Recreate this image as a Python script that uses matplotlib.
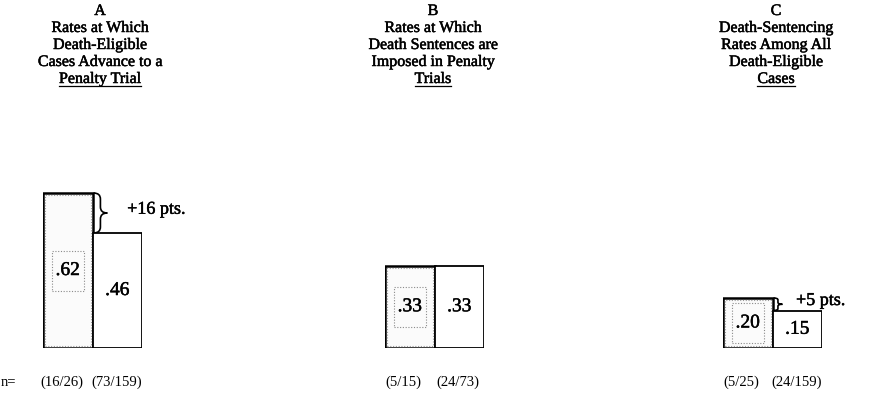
import matplotlib
matplotlib.use("Agg")
import matplotlib.pyplot as plt
from matplotlib.patches import Rectangle, PathPatch
from matplotlib.path import Path
from matplotlib.lines import Line2D
import matplotlib.patheffects as pe

plt.rcParams["font.family"] = ["Liberation Serif", "DejaVu Serif"]

# Panel data
panel_letters = ["A", "B", "C"]
title_lines = [
    ["Rates at Which", "Death-Eligible", "Cases Advance to a"],
    ["Rates at Which", "Death Sentences are", "Imposed in Penalty"],
    ["Death-Sentencing", "Rates Among All", "Death-Eligible"],
]
title_underlined = ["Penalty Trial", "Trials", "Cases"]
left_rates = [0.62, 0.33, 0.20]
right_rates = [0.46, 0.33, 0.15]
left_counts = ["(16/26)", "(5/15)", "(5/25)"]
right_counts = ["(73/159)", "(24/73)", "(24/159)"]

W, H = 873, 394
fig = plt.figure(figsize=(W / 100, H / 100), dpi=100)

# slightly heavier strokes for the typeset look
heavy = [pe.withStroke(linewidth=0.35, foreground="black")]

# layout in pixels: left edge of each pair of bars, width of the pair
pair_left = [43, 385, 723]
pair_width = 99
title_cx = [100, 433, 776]
base_px = 348          # baseline of bars (from top)
unit_px = 250          # pixels per 1.0 of rate

brace_w = [0.28, 0.28, 0.18]


def brace(ax, x0, w, ybot, ytop):
    """Draw a right-pointing curly brace between ybot and ytop."""
    h = ytop - ybot
    mid = (ytop + ybot) / 2
    q = h * 0.15
    xm = x0 + w * 0.5
    verts = [
        (x0, ytop), (xm, ytop), (xm, ytop - q),
        (xm, mid + q),
        (xm, mid), (x0 + w, mid),
        (xm, mid), (xm, mid - q),
        (xm, ybot + q),
        (xm, ybot), (x0, ybot),
    ]
    codes = [Path.MOVETO, Path.CURVE3, Path.CURVE3,
             Path.LINETO,
             Path.CURVE3, Path.CURVE3,
             Path.CURVE3, Path.CURVE3,
             Path.LINETO,
             Path.CURVE3, Path.CURVE3]
    ax.add_patch(PathPatch(Path(verts, codes), fill=False, lw=1.2,
                           edgecolor="black", clip_on=False))


for i in range(3):
    ax = fig.add_axes([pair_left[i] / W, (H - base_px) / H,
                       pair_width / W, unit_px / H])
    ax.set_xlim(-0.5, 1.5)
    ax.set_ylim(0, 1)
    ax.axis("off")

    lv, rv = left_rates[i], right_rates[i]
    ax.bar([0], [lv], width=1.0, color="#fbfbfb", edgecolor="black",
           linewidth=1.8, zorder=2)
    ax.bar([1], [rv], width=1.0, color="white", edgecolor="black",
           linewidth=1.3, zorder=2)

    # stippled inner border of the left bar
    ax.add_patch(Rectangle((-0.46, 0.008), 0.92, lv - 0.016, fill=False,
                           edgecolor="#9a9a9a", lw=0.8, ls=(0, (1, 1.5)),
                           zorder=3))
    # dotted box around the left bar's value
    ax.add_patch(Rectangle((-0.32, lv / 2 - 0.08), 0.64, 0.16, fill=False,
                           edgecolor="#8a8a8a", lw=0.8, ls=(0, (1, 1.5)),
                           zorder=3))

    fmt = lambda v: ("%.2f" % v)[1:]
    ax.text(0, lv / 2, fmt(lv), ha="center", va="center", fontsize=14,
            zorder=4, path_effects=heavy)
    ax.text(1, rv / 2, fmt(rv), ha="center", va="center", fontsize=14,
            zorder=4, path_effects=heavy)

    # sample sizes
    ax.text(-0.12, -0.136, left_counts[i], ha="center", va="center",
            fontsize=10.5, clip_on=False)
    ax.text(0.98, -0.136, right_counts[i], ha="center", va="center",
            fontsize=10.5, clip_on=False)

    # difference bracket
    diff = round((lv - rv) * 100)
    if diff > 0:
        brace(ax, 0.52, brace_w[i], rv, lv)
        ax.text(0.52 + brace_w[i] + 0.35 * (brace_w[i] / 0.28) + 0.05,
                (lv + rv) / 2 + 0.015, "+%d pts." % diff,
                ha="left", va="center", fontsize=13, clip_on=False,
                path_effects=heavy)

fig.text(1 / W, (H - 382) / H, "n=", ha="left", va="center", fontsize=10.5)

# Panel titles
line_px = 17
fig.canvas.draw()
renderer = fig.canvas.get_renderer()
for i in range(3):
    lines = [panel_letters[i]] + title_lines[i]
    for k, s in enumerate(lines):
        fig.text(title_cx[i] / W, (H - (11 + k * line_px)) / H, s,
                 ha="center", va="center", fontsize=11.5, path_effects=heavy)
    k = len(lines)
    t = fig.text(title_cx[i] / W, (H - (11 + k * line_px)) / H,
                 title_underlined[i], ha="center", va="center",
                 fontsize=11.5, path_effects=heavy)
    bb = t.get_window_extent(renderer=renderer)
    y_ul = (bb.y0 + 1) / H
    fig.add_artist(Line2D([bb.x0 / W, bb.x1 / W], [y_ul, y_ul],
                          color="black", lw=0.9))

fig.savefig("out.png", dpi=100, facecolor="white")
